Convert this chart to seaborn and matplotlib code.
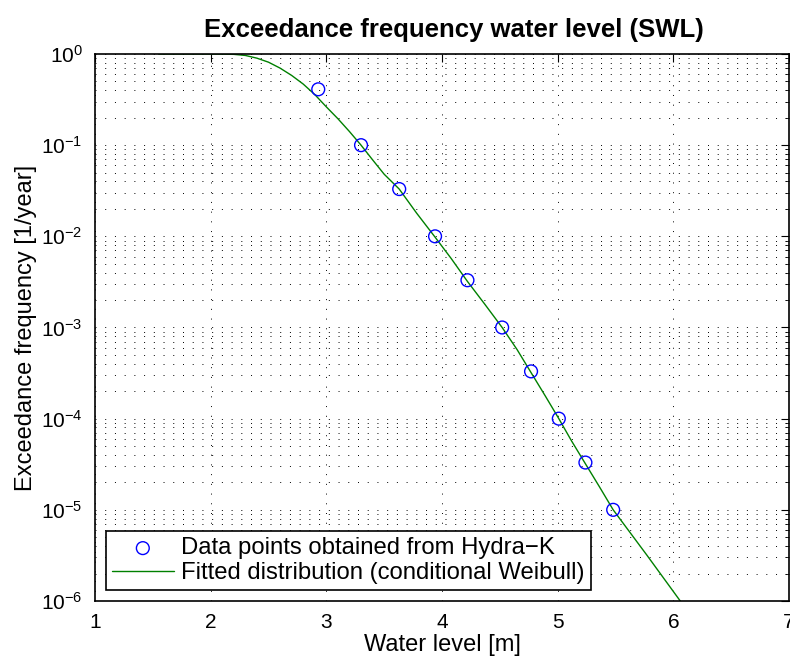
import numpy as np
import pandas as pd
import matplotlib
matplotlib.use("Agg")
import matplotlib.pyplot as plt
import seaborn as sns
from matplotlib.ticker import LogLocator, FixedLocator

# Data points (Hydra-K)
level_pts = [2.93, 3.30, 3.63, 3.94, 4.22, 4.52, 4.77, 5.01, 5.24, 5.48]
freq_pts = [0.41, 0.10, 0.033, 0.010, 0.0033, 0.0010, 3.3e-4, 1.0e-4, 3.3e-5, 1.0e-5]

# Fitted curve (conditional Weibull)
level_fit = [1.55, 1.80, 2.00, 2.10, 2.20, 2.30, 2.40, 2.50, 2.60, 2.70, 2.80,
             2.90, 3.00, 3.10, 3.20, 3.30, 3.40, 3.50, 3.63, 3.78, 3.94, 4.08,
             4.22, 4.37, 4.52, 4.65, 4.77, 4.89, 5.01, 5.12, 5.24, 5.36, 5.48,
             5.77, 6.06, 6.20]
freq_fit = [1.0, 1.0, 0.999, 0.997, 0.991, 0.964, 0.90, 0.813, 0.70, 0.582,
            0.468, 0.359, 0.263, 0.195, 0.141, 0.100, 0.069, 0.048, 0.033,
            0.018, 0.0098, 0.0057, 0.0032, 0.0018, 0.0010, 5.7e-4, 3.2e-4,
            1.8e-4, 1.0e-4, 5.7e-5, 3.2e-5, 1.8e-5, 1.0e-5, 3.2e-6, 1.0e-6,
            5.9e-7]

x_ticks = [1, 2, 3, 4, 5, 6, 7]

pts = pd.DataFrame({"level": level_pts, "freq": freq_pts})
fit = pd.DataFrame({"level": level_fit, "freq": freq_fit})

sns.set_style("white")
plt.rcParams["font.family"] = ["Liberation Sans", "DejaVu Sans"]
plt.rcParams["mathtext.fontset"] = "custom"
plt.rcParams["mathtext.rm"] = "Liberation Sans"
plt.rcParams["axes.unicode_minus"] = True
plt.rcParams["text.color"] = "black"
plt.rcParams["axes.labelcolor"] = "black"
plt.rcParams["xtick.color"] = "black"
plt.rcParams["ytick.color"] = "black"

fig = plt.figure(figsize=(7.9, 6.61), dpi=100)
ax = fig.add_axes([0.1203, 0.0908, 0.8784, 0.8275])

sns.scatterplot(data=pts, x="level", y="freq", ax=ax, marker="o", s=85,
                facecolors="none", edgecolor="#0000ff", linewidth=1.0,
                label="Data points obtained from Hydra\u2212K", zorder=3)
sns.lineplot(data=fit, x="level", y="freq", ax=ax, color="#008000",
             linewidth=1.0, label="Fitted distribution (conditional Weibull)",
             sort=False, estimator=None, zorder=2)

ax.set_yscale("log")
ax.set_xlim(1, 7)
ax.set_ylim(1e-6, 1)
ax.xaxis.set_major_locator(FixedLocator(x_ticks))
ax.yaxis.set_major_locator(LogLocator(base=10, numticks=10))
ax.yaxis.set_minor_locator(LogLocator(base=10, subs=np.arange(2, 10), numticks=100))

ax.grid(True, which="major", axis="both", linestyle=(0, (1, 9)), color="black",
        linewidth=0.7)
ax.grid(True, which="minor", axis="y", linestyle=(0, (1, 9)), color="black",
        linewidth=0.7)

ax.tick_params(which="both", direction="in", top=True, right=True,
               labelsize=15, color="black", labelcolor="black")
ax.tick_params(axis="x", which="major", pad=9)
ax.tick_params(axis="y", which="major", pad=9)
ax.tick_params(which="major", length=6, width=0.8)
ax.tick_params(which="minor", length=3, width=0.6)
for s in ax.spines.values():
    s.set_color("black")
    s.set_linewidth(1.2)

ax.set_xlabel("Water level [m]", fontsize=17, labelpad=1)
ax.set_ylabel("Exceedance frequency [1/year]", fontsize=17, labelpad=3)
ax.set_title("Exceedance frequency water level (SWL)", fontsize=18.5,
             fontweight="bold", pad=12, x=0.517)

leg = ax.legend(loc="lower left", fontsize=17.2, frameon=True, fancybox=False,
                framealpha=1, edgecolor="black", borderpad=0.25,
                handlelength=2.6, handletextpad=0.3, labelspacing=0.12,
                borderaxespad=0.45)
leg.get_frame().set_linewidth(1.2)

fig.savefig("out.png", dpi=100)
